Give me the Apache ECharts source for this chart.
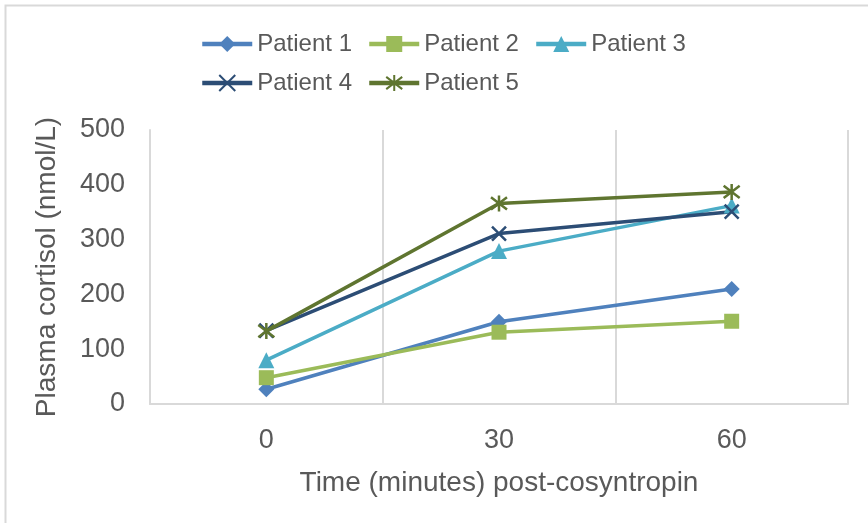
<!DOCTYPE html>
<html>
<head>
<meta charset="utf-8">
<script src="https://cdn.jsdelivr.net/npm/echarts@6/dist/echarts.min.js"></script>
<style>
  html, body { margin: 0; padding: 0; background: #fff; }
  #chart { width: 868px; height: 523px; }
</style>
</head>
<body>
<div id="chart"></div>
<script>
// Time points after cosyntropin (minutes)
const timePoints = ['0', '30', '60'];

// Plasma cortisol (nmol/L) per patient
const patientNames = ['Patient 1', 'Patient 2', 'Patient 3', 'Patient 4', 'Patient 5'];
const patient1 = [27, 150, 210];
const patient2 = [48, 131, 151];
const patient3 = [80, 279, 362];
const patient4 = [134, 311, 351];
const patient5 = [133, 366, 387];

const yTicks = [0, 100, 200, 300, 400, 500];

const colors = ['#4F81BD', '#9BBB59', '#4BACC6', '#2C4D75', '#5F7530'];
const symbols = [
  'diamond',
  'rect',
  'triangle',
  'path://M0,0L10,10M10,0L0,10',
  'path://M0,0L10,10M10,0L0,10M5,-1.5L5,11.5'
];
const symbolSizes = [16, 15, 16, 14, 16];
const values = [patient1, patient2, patient3, patient4, patient5];

const textColor = '#595959';
const gridColor = '#D9D9D9';
const fontFamily = '"Liberation Sans", Arial, sans-serif';

const series = patientNames.map((name, i) => {
  const stroked = i >= 3;
  return {
    name: name,
    type: 'line',
    data: values[i],
    symbol: symbols[i],
    symbolSize: symbolSizes[i],
    showAllSymbol: true,
    lineStyle: { color: colors[i], width: 3.5 },
    itemStyle: stroked
      ? { color: colors[i], borderColor: colors[i], borderWidth: 2.5 }
      : { color: colors[i], borderWidth: 0 },
    emphasis: { disabled: true },
    animation: false
  };
});

const chart = echarts.init(document.getElementById('chart'), null, { renderer: 'canvas' });
chart.setOption({
  backgroundColor: '#fff',
  animation: false,
  color: colors,
  textStyle: { fontFamily: fontFamily, color: textColor },
  graphic: [
    {
      type: 'polyline',
      shape: { points: [[5.5, 600], [5.5, 5.5], [900, 5.5]] },
      style: { stroke: gridColor, lineWidth: 2, fill: null },
      silent: true
    }
  ],
  legend: {
    left: 200,
    top: 32,
    padding: 0,
    width: 500,
    itemWidth: 50,
    itemHeight: 20,
    itemGap: 15,
    data: patientNames,
    lineStyle: { width: 4.5 },
    textStyle: { fontSize: 24, color: textColor, fontFamily: fontFamily },
    selectedMode: false
  },
  grid: {
    left: 150,
    right: 20,
    top: 130,
    bottom: 119,
    containLabel: false,
    outerBoundsMode: 'none'
  },
  xAxis: {
    type: 'category',
    data: timePoints,
    boundaryGap: true,
    name: 'Time (minutes) post-cosyntropin',
    nameLocation: 'middle',
    nameGap: 65,
    nameTextStyle: { fontSize: 28, color: textColor, fontFamily: fontFamily },
    axisLine: { show: true, lineStyle: { color: gridColor, width: 2 } },
    axisTick: { show: false },
    axisLabel: { fontSize: 27, color: textColor, margin: 23, fontFamily: fontFamily },
    splitLine: { show: true, lineStyle: { color: gridColor, width: 2 } }
  },
  yAxis: {
    type: 'value',
    min: yTicks[0],
    max: yTicks[yTicks.length - 1],
    interval: yTicks[1] - yTicks[0],
    name: 'Plasma cortisol (nmol/L)',
    nameLocation: 'middle',
    nameGap: 89,
    nameTextStyle: { fontSize: 28, color: textColor, fontFamily: fontFamily },
    axisLine: { show: true, lineStyle: { color: gridColor, width: 2 } },
    axisTick: { show: false },
    axisLabel: { fontSize: 27, color: textColor, margin: 25, fontFamily: fontFamily },
    splitLine: { show: false }
  },
  series: series
});
</script>
</body>
</html>
